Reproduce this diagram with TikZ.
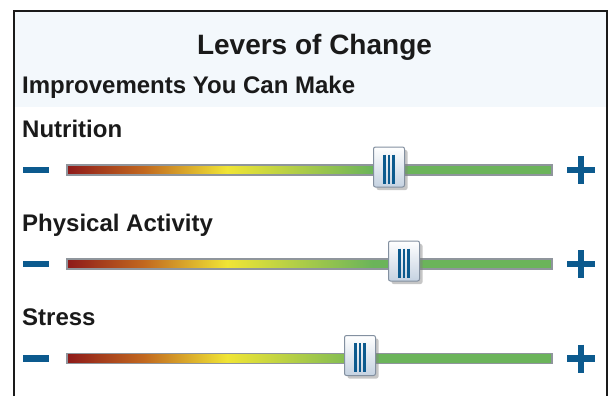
\documentclass[tikz,border=0pt]{standalone}
\usepackage{fontspec}
\setmainfont{Liberation Sans}
\usetikzlibrary{shadows}
\definecolor{headbg}{HTML}{F3F8FC}
\definecolor{inkblack}{HTML}{1A1A1A}
\definecolor{leverblue}{HTML}{0C5A8E}
\definecolor{barred}{HTML}{8E1A1A}
\definecolor{barorange}{HTML}{C2691F}
\definecolor{baryellow}{HTML}{F0E535}
\definecolor{bargreen}{HTML}{6BB45A}
\definecolor{barrim}{HTML}{8F959C}
\definecolor{knobrim}{HTML}{8390A0}
\definecolor{knobbot}{HTML}{C5D2E1}
\pgfdeclarehorizontalshading{levershade}{100bp}{color(0bp)=(barred); color(25bp)=(barred); color(33bp)=(barorange); color(41.5bp)=(baryellow); color(56.5bp)=(bargreen); color(100bp)=(bargreen)}
\tikzset{
  lvtext/.style={anchor=base west, inner sep=0pt, text=inkblack, font=\bfseries\fontsize{24}{28}\selectfont},
  lever/.style={draw=barrim, line width=1.2pt, shade, shading=levershade, minimum width=485pt, minimum height=10pt, inner sep=0pt},
  knob/.style={draw=knobrim, line width=1pt, rounded corners=2pt, top color=white, bottom color=knobbot,
    minimum width=31pt, minimum height=40pt, inner sep=0pt,
    drop shadow={shadow xshift=3pt, shadow yshift=-3pt, opacity=0.45, fill=gray}},
  grip/.style={draw=leverblue, line width=2.2pt},
  sign/.style={draw=leverblue, line width=6.5pt}
}
\begin{document}
\begin{tikzpicture}[x=1pt,y=-1pt]
\useasboundingbox (0,0) rectangle (609,396);
% header and frame
\fill[headbg] (14,11) rectangle (607,107);
\draw[inkblack, line width=2.5pt] (14,396) -- (14,11) -- (607,11) -- (607,396);
\node[anchor=base, inner sep=0pt, text=inkblack, font=\bfseries\fontsize{28}{32}\selectfont] (title) at (314.5,54) {Levers of Change};
\node[lvtext] (improve) at (22,93) {Improvements You Can Make};
% nutrition
\node[lvtext] (nutlabel) at (22,137) {Nutrition};
\coordinate (nutminus) at (36,170);
\coordinate (nutplus) at (581,170);
\draw[sign] ([xshift=-13pt]nutminus) -- ([xshift=13pt]nutminus);
\draw[sign] ([xshift=-14pt]nutplus) -- ([xshift=14pt]nutplus) ([yshift=14pt]nutplus) -- ([yshift=-14pt]nutplus);
\node[lever] (nutbar) at (309.5,170) {};
\node[knob] (nutknob) at (389,167) {};
\foreach \dx in {-4.5,0,4.5}
  \draw[grip] ([xshift=\dx pt,yshift=-8pt]nutknob.north) -- ([xshift=\dx pt,yshift=4pt]nutknob.south);
% physical activity
\node[lvtext] (actlabel) at (22,231) {Physical Activity};
\coordinate (actminus) at (36,264);
\coordinate (actplus) at (581,264);
\draw[sign] ([xshift=-13pt]actminus) -- ([xshift=13pt]actminus);
\draw[sign] ([xshift=-14pt]actplus) -- ([xshift=14pt]actplus) ([yshift=14pt]actplus) -- ([yshift=-14pt]actplus);
\node[lever] (actbar) at (309.5,264) {};
\node[knob] (actknob) at (404,261) {};
\foreach \dx in {-4.5,0,4.5}
  \draw[grip] ([xshift=\dx pt,yshift=-8pt]actknob.north) -- ([xshift=\dx pt,yshift=4pt]actknob.south);
% stress
\node[lvtext] (strlabel) at (22,325) {Stress};
\coordinate (strminus) at (36,358.5);
\coordinate (strplus) at (581,358.5);
\draw[sign] ([xshift=-13pt]strminus) -- ([xshift=13pt]strminus);
\draw[sign] ([xshift=-14pt]strplus) -- ([xshift=14pt]strplus) ([yshift=14pt]strplus) -- ([yshift=-14pt]strplus);
\node[lever] (strbar) at (309.5,358.5) {};
\node[knob] (strknob) at (360,355.5) {};
\foreach \dx in {-4.5,0,4.5}
  \draw[grip] ([xshift=\dx pt,yshift=-8pt]strknob.north) -- ([xshift=\dx pt,yshift=4pt]strknob.south);
\end{tikzpicture}
\end{document}
